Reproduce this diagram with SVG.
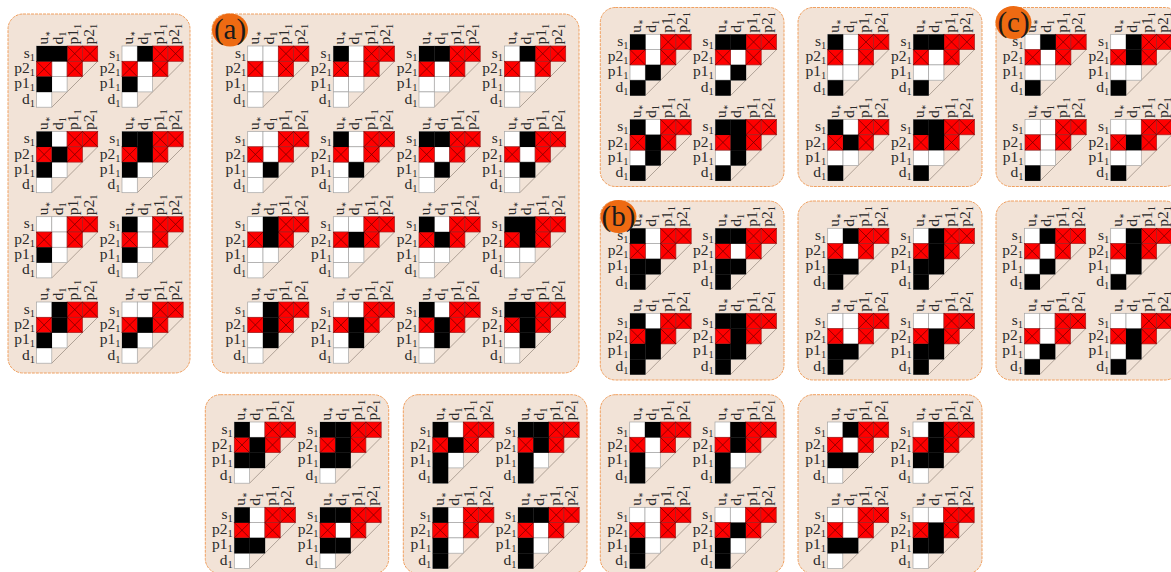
<svg xmlns="http://www.w3.org/2000/svg" width="1171" height="572" viewBox="0 0 1171 572">
<style>
.p{fill:#f2e3d7;stroke:#f0a060;stroke-width:1;stroke-dasharray:3 1}
text{font-family:"Liberation Serif","Times New Roman",serif;font-size:15.5px;fill:#2a2a2a}
tspan{font-size:10.5px;baseline-shift:-3px}
.c text:first-child tspan{font-size:7px;baseline-shift:-2px;font-family:"DejaVu Sans",sans-serif}
.r{text-anchor:end;transform:translate(-1.5px,0)}
.c{transform:translate(0,-1.5px) rotate(-90deg)}
.w{fill:#fff;stroke:#a5a5a5;stroke-width:.7}
.e{fill:#f00;stroke:#a02020;stroke-width:.7}
.x{stroke:#600;stroke-width:.7;fill:none}
.d{stroke:#a89a8e;stroke-width:.9}
.h{fill:#000}
.o{fill:#ee6a12}
.t{font-size:29px;fill:#1a1a1a;text-anchor:middle}
</style>
<defs>
<g id="b">
<path class="d" d="M15.3 61.2L61.2 15.3"/>
<rect class="w" width="15.3" height="15.3"/><rect class="w" x="15.3" width="15.3" height="15.3"/><rect class="w" x="15.3" y="15.3" width="15.3" height="15.3"/><rect class="w" y="30.6" width="15.3" height="15.3"/><rect class="w" x="15.3" y="30.6" width="15.3" height="15.3"/><rect class="w" y="45.9" width="15.3" height="15.3"/>
<rect class="e" x="30.6" width="15.3" height="15.3"/><rect class="e" x="45.9" width="15.3" height="15.3"/><rect class="e" y="15.3" width="15.3" height="15.3"/><rect class="e" x="30.6" y="15.3" width="15.3" height="15.3"/>
<path class="x" d="M30.6 0l15.3 15.3m0-15.3L30.6 15.3M45.9 0l15.3 15.3m0-15.3L45.9 15.3M0 15.3l15.3 15.3m0-15.3L0 30.6M30.6 15.3l15.3 15.3m0-15.3L30.6 30.6"/>
</g>
<rect id="A" class="h" width="15.5" height="15.5"/>
<rect id="B" class="h" x="15.3" width="15.5" height="15.5"/>
<rect id="C" class="h" x="15.3" y="15.3" width="15.5" height="15.5"/>
<rect id="D" class="h" y="30.6" width="15.5" height="15.5"/>
<rect id="E" class="h" x="15.3" y="30.6" width="15.5" height="15.5"/>
<rect id="F" class="h" y="45.9" width="15.5" height="15.5"/>
</defs>
<g id="panel-1"><rect class="p" x="8" y="14" width="182" height="359" rx="15"/>
<g id="m1" transform="translate(36.5 46)"><use href="#b"/><use href="#A"/><use href="#B"/><use href="#D"/><g class="r"><text y="11.5">s<tspan>1</tspan></text><text y="27">p2<tspan>1</tspan></text><text y="42">p1<tspan>1</tspan></text><text y="57.5">d<tspan>1</tspan></text></g><g class="c"><text y="11">u<tspan>∗</tspan></text><text y="26">d<tspan>1</tspan></text><text y="41.5">p1<tspan>1</tspan></text><text y="57">p2<tspan>1</tspan></text></g></g>
<g id="m2" transform="translate(122 46)"><use href="#b"/><use href="#B"/><use href="#D"/><g class="r"><text y="11.5">s<tspan>1</tspan></text><text y="27">p2<tspan>1</tspan></text><text y="42">p1<tspan>1</tspan></text><text y="57.5">d<tspan>1</tspan></text></g><g class="c"><text y="11">u<tspan>∗</tspan></text><text y="26">d<tspan>1</tspan></text><text y="41.5">p1<tspan>1</tspan></text><text y="57">p2<tspan>1</tspan></text></g></g>
<g id="m3" transform="translate(36.5 131.5)"><use href="#b"/><use href="#A"/><use href="#C"/><use href="#D"/><g class="r"><text y="11.5">s<tspan>1</tspan></text><text y="27">p2<tspan>1</tspan></text><text y="42">p1<tspan>1</tspan></text><text y="57.5">d<tspan>1</tspan></text></g><g class="c"><text y="11">u<tspan>∗</tspan></text><text y="26">d<tspan>1</tspan></text><text y="41.5">p1<tspan>1</tspan></text><text y="57">p2<tspan>1</tspan></text></g></g>
<g id="m4" transform="translate(122 131.5)"><use href="#b"/><use href="#A"/><use href="#B"/><use href="#C"/><use href="#D"/><g class="r"><text y="11.5">s<tspan>1</tspan></text><text y="27">p2<tspan>1</tspan></text><text y="42">p1<tspan>1</tspan></text><text y="57.5">d<tspan>1</tspan></text></g><g class="c"><text y="11">u<tspan>∗</tspan></text><text y="26">d<tspan>1</tspan></text><text y="41.5">p1<tspan>1</tspan></text><text y="57">p2<tspan>1</tspan></text></g></g>
<g id="m5" transform="translate(36.5 216.7)"><use href="#b"/><use href="#D"/><g class="r"><text y="11.5">s<tspan>1</tspan></text><text y="27">p2<tspan>1</tspan></text><text y="42">p1<tspan>1</tspan></text><text y="57.5">d<tspan>1</tspan></text></g><g class="c"><text y="11">u<tspan>∗</tspan></text><text y="26">d<tspan>1</tspan></text><text y="41.5">p1<tspan>1</tspan></text><text y="57">p2<tspan>1</tspan></text></g></g>
<g id="m6" transform="translate(122 216.7)"><use href="#b"/><use href="#A"/><use href="#D"/><g class="r"><text y="11.5">s<tspan>1</tspan></text><text y="27">p2<tspan>1</tspan></text><text y="42">p1<tspan>1</tspan></text><text y="57.5">d<tspan>1</tspan></text></g><g class="c"><text y="11">u<tspan>∗</tspan></text><text y="26">d<tspan>1</tspan></text><text y="41.5">p1<tspan>1</tspan></text><text y="57">p2<tspan>1</tspan></text></g></g>
<g id="m7" transform="translate(36.5 302)"><use href="#b"/><use href="#B"/><use href="#C"/><use href="#D"/><g class="r"><text y="11.5">s<tspan>1</tspan></text><text y="27">p2<tspan>1</tspan></text><text y="42">p1<tspan>1</tspan></text><text y="57.5">d<tspan>1</tspan></text></g><g class="c"><text y="11">u<tspan>∗</tspan></text><text y="26">d<tspan>1</tspan></text><text y="41.5">p1<tspan>1</tspan></text><text y="57">p2<tspan>1</tspan></text></g></g>
<g id="m8" transform="translate(122 302)"><use href="#b"/><use href="#C"/><use href="#D"/><g class="r"><text y="11.5">s<tspan>1</tspan></text><text y="27">p2<tspan>1</tspan></text><text y="42">p1<tspan>1</tspan></text><text y="57.5">d<tspan>1</tspan></text></g><g class="c"><text y="11">u<tspan>∗</tspan></text><text y="26">d<tspan>1</tspan></text><text y="41.5">p1<tspan>1</tspan></text><text y="57">p2<tspan>1</tspan></text></g></g>
</g>
<g id="panel-a"><rect class="p" x="212" y="14" width="367" height="359" rx="15"/>
<g id="m9" transform="translate(247.7 46)"><use href="#b"/><g class="r"><text y="11.5">s<tspan>1</tspan></text><text y="27">p2<tspan>1</tspan></text><text y="42">p1<tspan>1</tspan></text><text y="57.5">d<tspan>1</tspan></text></g><g class="c"><text y="11">u<tspan>∗</tspan></text><text y="26">d<tspan>1</tspan></text><text y="41.5">p1<tspan>1</tspan></text><text y="57">p2<tspan>1</tspan></text></g></g>
<g id="m10" transform="translate(333.3 46)"><use href="#b"/><use href="#A"/><g class="r"><text y="11.5">s<tspan>1</tspan></text><text y="27">p2<tspan>1</tspan></text><text y="42">p1<tspan>1</tspan></text><text y="57.5">d<tspan>1</tspan></text></g><g class="c"><text y="11">u<tspan>∗</tspan></text><text y="26">d<tspan>1</tspan></text><text y="41.5">p1<tspan>1</tspan></text><text y="57">p2<tspan>1</tspan></text></g></g>
<g id="m11" transform="translate(419 46)"><use href="#b"/><use href="#A"/><use href="#B"/><g class="r"><text y="11.5">s<tspan>1</tspan></text><text y="27">p2<tspan>1</tspan></text><text y="42">p1<tspan>1</tspan></text><text y="57.5">d<tspan>1</tspan></text></g><g class="c"><text y="11">u<tspan>∗</tspan></text><text y="26">d<tspan>1</tspan></text><text y="41.5">p1<tspan>1</tspan></text><text y="57">p2<tspan>1</tspan></text></g></g>
<g id="m12" transform="translate(504.5 46)"><use href="#b"/><use href="#B"/><g class="r"><text y="11.5">s<tspan>1</tspan></text><text y="27">p2<tspan>1</tspan></text><text y="42">p1<tspan>1</tspan></text><text y="57.5">d<tspan>1</tspan></text></g><g class="c"><text y="11">u<tspan>∗</tspan></text><text y="26">d<tspan>1</tspan></text><text y="41.5">p1<tspan>1</tspan></text><text y="57">p2<tspan>1</tspan></text></g></g>
<g id="m13" transform="translate(247.7 131.5)"><use href="#b"/><use href="#E"/><g class="r"><text y="11.5">s<tspan>1</tspan></text><text y="27">p2<tspan>1</tspan></text><text y="42">p1<tspan>1</tspan></text><text y="57.5">d<tspan>1</tspan></text></g><g class="c"><text y="11">u<tspan>∗</tspan></text><text y="26">d<tspan>1</tspan></text><text y="41.5">p1<tspan>1</tspan></text><text y="57">p2<tspan>1</tspan></text></g></g>
<g id="m14" transform="translate(333.3 131.5)"><use href="#b"/><use href="#A"/><use href="#E"/><g class="r"><text y="11.5">s<tspan>1</tspan></text><text y="27">p2<tspan>1</tspan></text><text y="42">p1<tspan>1</tspan></text><text y="57.5">d<tspan>1</tspan></text></g><g class="c"><text y="11">u<tspan>∗</tspan></text><text y="26">d<tspan>1</tspan></text><text y="41.5">p1<tspan>1</tspan></text><text y="57">p2<tspan>1</tspan></text></g></g>
<g id="m15" transform="translate(419 131.5)"><use href="#b"/><use href="#A"/><use href="#B"/><use href="#E"/><g class="r"><text y="11.5">s<tspan>1</tspan></text><text y="27">p2<tspan>1</tspan></text><text y="42">p1<tspan>1</tspan></text><text y="57.5">d<tspan>1</tspan></text></g><g class="c"><text y="11">u<tspan>∗</tspan></text><text y="26">d<tspan>1</tspan></text><text y="41.5">p1<tspan>1</tspan></text><text y="57">p2<tspan>1</tspan></text></g></g>
<g id="m16" transform="translate(504.5 131.5)"><use href="#b"/><use href="#B"/><use href="#E"/><g class="r"><text y="11.5">s<tspan>1</tspan></text><text y="27">p2<tspan>1</tspan></text><text y="42">p1<tspan>1</tspan></text><text y="57.5">d<tspan>1</tspan></text></g><g class="c"><text y="11">u<tspan>∗</tspan></text><text y="26">d<tspan>1</tspan></text><text y="41.5">p1<tspan>1</tspan></text><text y="57">p2<tspan>1</tspan></text></g></g>
<g id="m17" transform="translate(247.7 216.7)"><use href="#b"/><use href="#B"/><use href="#C"/><g class="r"><text y="11.5">s<tspan>1</tspan></text><text y="27">p2<tspan>1</tspan></text><text y="42">p1<tspan>1</tspan></text><text y="57.5">d<tspan>1</tspan></text></g><g class="c"><text y="11">u<tspan>∗</tspan></text><text y="26">d<tspan>1</tspan></text><text y="41.5">p1<tspan>1</tspan></text><text y="57">p2<tspan>1</tspan></text></g></g>
<g id="m18" transform="translate(333.3 216.7)"><use href="#b"/><use href="#C"/><g class="r"><text y="11.5">s<tspan>1</tspan></text><text y="27">p2<tspan>1</tspan></text><text y="42">p1<tspan>1</tspan></text><text y="57.5">d<tspan>1</tspan></text></g><g class="c"><text y="11">u<tspan>∗</tspan></text><text y="26">d<tspan>1</tspan></text><text y="41.5">p1<tspan>1</tspan></text><text y="57">p2<tspan>1</tspan></text></g></g>
<g id="m19" transform="translate(419 216.7)"><use href="#b"/><use href="#A"/><use href="#C"/><g class="r"><text y="11.5">s<tspan>1</tspan></text><text y="27">p2<tspan>1</tspan></text><text y="42">p1<tspan>1</tspan></text><text y="57.5">d<tspan>1</tspan></text></g><g class="c"><text y="11">u<tspan>∗</tspan></text><text y="26">d<tspan>1</tspan></text><text y="41.5">p1<tspan>1</tspan></text><text y="57">p2<tspan>1</tspan></text></g></g>
<g id="m20" transform="translate(504.5 216.7)"><use href="#b"/><use href="#A"/><use href="#B"/><use href="#C"/><g class="r"><text y="11.5">s<tspan>1</tspan></text><text y="27">p2<tspan>1</tspan></text><text y="42">p1<tspan>1</tspan></text><text y="57.5">d<tspan>1</tspan></text></g><g class="c"><text y="11">u<tspan>∗</tspan></text><text y="26">d<tspan>1</tspan></text><text y="41.5">p1<tspan>1</tspan></text><text y="57">p2<tspan>1</tspan></text></g></g>
<g id="m21" transform="translate(247.7 302)"><use href="#b"/><use href="#B"/><use href="#C"/><use href="#E"/><g class="r"><text y="11.5">s<tspan>1</tspan></text><text y="27">p2<tspan>1</tspan></text><text y="42">p1<tspan>1</tspan></text><text y="57.5">d<tspan>1</tspan></text></g><g class="c"><text y="11">u<tspan>∗</tspan></text><text y="26">d<tspan>1</tspan></text><text y="41.5">p1<tspan>1</tspan></text><text y="57">p2<tspan>1</tspan></text></g></g>
<g id="m22" transform="translate(333.3 302)"><use href="#b"/><use href="#C"/><use href="#E"/><g class="r"><text y="11.5">s<tspan>1</tspan></text><text y="27">p2<tspan>1</tspan></text><text y="42">p1<tspan>1</tspan></text><text y="57.5">d<tspan>1</tspan></text></g><g class="c"><text y="11">u<tspan>∗</tspan></text><text y="26">d<tspan>1</tspan></text><text y="41.5">p1<tspan>1</tspan></text><text y="57">p2<tspan>1</tspan></text></g></g>
<g id="m23" transform="translate(419 302)"><use href="#b"/><use href="#A"/><use href="#C"/><use href="#E"/><g class="r"><text y="11.5">s<tspan>1</tspan></text><text y="27">p2<tspan>1</tspan></text><text y="42">p1<tspan>1</tspan></text><text y="57.5">d<tspan>1</tspan></text></g><g class="c"><text y="11">u<tspan>∗</tspan></text><text y="26">d<tspan>1</tspan></text><text y="41.5">p1<tspan>1</tspan></text><text y="57">p2<tspan>1</tspan></text></g></g>
<g id="m24" transform="translate(504.5 302)"><use href="#b"/><use href="#A"/><use href="#B"/><use href="#C"/><use href="#E"/><g class="r"><text y="11.5">s<tspan>1</tspan></text><text y="27">p2<tspan>1</tspan></text><text y="42">p1<tspan>1</tspan></text><text y="57.5">d<tspan>1</tspan></text></g><g class="c"><text y="11">u<tspan>∗</tspan></text><text y="26">d<tspan>1</tspan></text><text y="41.5">p1<tspan>1</tspan></text><text y="57">p2<tspan>1</tspan></text></g></g>
</g>
<g id="panel-t1"><rect class="p" x="600.3" y="7.5" width="183.7" height="179" rx="15"/>
<g id="m25" transform="translate(630 34.3)"><use href="#b"/><use href="#A"/><use href="#E"/><use href="#F"/><g class="r"><text y="11.5">s<tspan>1</tspan></text><text y="27">p2<tspan>1</tspan></text><text y="42">p1<tspan>1</tspan></text><text y="57.5">d<tspan>1</tspan></text></g><g class="c"><text y="11">u<tspan>∗</tspan></text><text y="26">d<tspan>1</tspan></text><text y="41.5">p1<tspan>1</tspan></text><text y="57">p2<tspan>1</tspan></text></g></g>
<g id="m26" transform="translate(715.3 34.3)"><use href="#b"/><use href="#A"/><use href="#B"/><use href="#E"/><use href="#F"/><g class="r"><text y="11.5">s<tspan>1</tspan></text><text y="27">p2<tspan>1</tspan></text><text y="42">p1<tspan>1</tspan></text><text y="57.5">d<tspan>1</tspan></text></g><g class="c"><text y="11">u<tspan>∗</tspan></text><text y="26">d<tspan>1</tspan></text><text y="41.5">p1<tspan>1</tspan></text><text y="57">p2<tspan>1</tspan></text></g></g>
<g id="m27" transform="translate(630 119.5)"><use href="#b"/><use href="#A"/><use href="#C"/><use href="#E"/><use href="#F"/><g class="r"><text y="11.5">s<tspan>1</tspan></text><text y="27">p2<tspan>1</tspan></text><text y="42">p1<tspan>1</tspan></text><text y="57.5">d<tspan>1</tspan></text></g><g class="c"><text y="11">u<tspan>∗</tspan></text><text y="26">d<tspan>1</tspan></text><text y="41.5">p1<tspan>1</tspan></text><text y="57">p2<tspan>1</tspan></text></g></g>
<g id="m28" transform="translate(715.3 119.5)"><use href="#b"/><use href="#A"/><use href="#B"/><use href="#C"/><use href="#E"/><use href="#F"/><g class="r"><text y="11.5">s<tspan>1</tspan></text><text y="27">p2<tspan>1</tspan></text><text y="42">p1<tspan>1</tspan></text><text y="57.5">d<tspan>1</tspan></text></g><g class="c"><text y="11">u<tspan>∗</tspan></text><text y="26">d<tspan>1</tspan></text><text y="41.5">p1<tspan>1</tspan></text><text y="57">p2<tspan>1</tspan></text></g></g>
</g>
<g id="panel-t2"><rect class="p" x="798" y="7.5" width="184" height="179" rx="15"/>
<g id="m29" transform="translate(827.7 34.3)"><use href="#b"/><use href="#A"/><use href="#F"/><g class="r"><text y="11.5">s<tspan>1</tspan></text><text y="27">p2<tspan>1</tspan></text><text y="42">p1<tspan>1</tspan></text><text y="57.5">d<tspan>1</tspan></text></g><g class="c"><text y="11">u<tspan>∗</tspan></text><text y="26">d<tspan>1</tspan></text><text y="41.5">p1<tspan>1</tspan></text><text y="57">p2<tspan>1</tspan></text></g></g>
<g id="m30" transform="translate(913.3 34.3)"><use href="#b"/><use href="#A"/><use href="#B"/><use href="#F"/><g class="r"><text y="11.5">s<tspan>1</tspan></text><text y="27">p2<tspan>1</tspan></text><text y="42">p1<tspan>1</tspan></text><text y="57.5">d<tspan>1</tspan></text></g><g class="c"><text y="11">u<tspan>∗</tspan></text><text y="26">d<tspan>1</tspan></text><text y="41.5">p1<tspan>1</tspan></text><text y="57">p2<tspan>1</tspan></text></g></g>
<g id="m31" transform="translate(827.7 119.5)"><use href="#b"/><use href="#A"/><use href="#C"/><use href="#F"/><g class="r"><text y="11.5">s<tspan>1</tspan></text><text y="27">p2<tspan>1</tspan></text><text y="42">p1<tspan>1</tspan></text><text y="57.5">d<tspan>1</tspan></text></g><g class="c"><text y="11">u<tspan>∗</tspan></text><text y="26">d<tspan>1</tspan></text><text y="41.5">p1<tspan>1</tspan></text><text y="57">p2<tspan>1</tspan></text></g></g>
<g id="m32" transform="translate(913.3 119.5)"><use href="#b"/><use href="#A"/><use href="#B"/><use href="#C"/><use href="#F"/><g class="r"><text y="11.5">s<tspan>1</tspan></text><text y="27">p2<tspan>1</tspan></text><text y="42">p1<tspan>1</tspan></text><text y="57.5">d<tspan>1</tspan></text></g><g class="c"><text y="11">u<tspan>∗</tspan></text><text y="26">d<tspan>1</tspan></text><text y="41.5">p1<tspan>1</tspan></text><text y="57">p2<tspan>1</tspan></text></g></g>
</g>
<g id="panel-c"><rect class="p" x="996" y="7.5" width="184" height="179" rx="15"/>
<g id="m33" transform="translate(1025 34.3)"><use href="#b"/><use href="#B"/><use href="#F"/><g class="r"><text y="11.5">s<tspan>1</tspan></text><text y="27">p2<tspan>1</tspan></text><text y="42">p1<tspan>1</tspan></text><text y="57.5">d<tspan>1</tspan></text></g><g class="c"><text y="11">u<tspan>∗</tspan></text><text y="26">d<tspan>1</tspan></text><text y="41.5">p1<tspan>1</tspan></text><text y="57">p2<tspan>1</tspan></text></g></g>
<g id="m34" transform="translate(1110.7 34.3)"><use href="#b"/><use href="#B"/><use href="#C"/><use href="#F"/><g class="r"><text y="11.5">s<tspan>1</tspan></text><text y="27">p2<tspan>1</tspan></text><text y="42">p1<tspan>1</tspan></text><text y="57.5">d<tspan>1</tspan></text></g><g class="c"><text y="11">u<tspan>∗</tspan></text><text y="26">d<tspan>1</tspan></text><text y="41.5">p1<tspan>1</tspan></text><text y="57">p2<tspan>1</tspan></text></g></g>
<g id="m35" transform="translate(1025 119.5)"><use href="#b"/><use href="#F"/><g class="r"><text y="11.5">s<tspan>1</tspan></text><text y="27">p2<tspan>1</tspan></text><text y="42">p1<tspan>1</tspan></text><text y="57.5">d<tspan>1</tspan></text></g><g class="c"><text y="11">u<tspan>∗</tspan></text><text y="26">d<tspan>1</tspan></text><text y="41.5">p1<tspan>1</tspan></text><text y="57">p2<tspan>1</tspan></text></g></g>
<g id="m36" transform="translate(1110.7 119.5)"><use href="#b"/><use href="#C"/><use href="#F"/><g class="r"><text y="11.5">s<tspan>1</tspan></text><text y="27">p2<tspan>1</tspan></text><text y="42">p1<tspan>1</tspan></text><text y="57.5">d<tspan>1</tspan></text></g><g class="c"><text y="11">u<tspan>∗</tspan></text><text y="26">d<tspan>1</tspan></text><text y="41.5">p1<tspan>1</tspan></text><text y="57">p2<tspan>1</tspan></text></g></g>
</g>
<g id="panel-b"><rect class="p" x="600.3" y="201" width="183.7" height="179" rx="15"/>
<g id="m37" transform="translate(630 228.3)"><use href="#b"/><use href="#A"/><use href="#D"/><use href="#E"/><use href="#F"/><g class="r"><text y="11.5">s<tspan>1</tspan></text><text y="27">p2<tspan>1</tspan></text><text y="42">p1<tspan>1</tspan></text><text y="57.5">d<tspan>1</tspan></text></g><g class="c"><text y="11">u<tspan>∗</tspan></text><text y="26">d<tspan>1</tspan></text><text y="41.5">p1<tspan>1</tspan></text><text y="57">p2<tspan>1</tspan></text></g></g>
<g id="m38" transform="translate(715.3 228.3)"><use href="#b"/><use href="#A"/><use href="#B"/><use href="#D"/><use href="#E"/><use href="#F"/><g class="r"><text y="11.5">s<tspan>1</tspan></text><text y="27">p2<tspan>1</tspan></text><text y="42">p1<tspan>1</tspan></text><text y="57.5">d<tspan>1</tspan></text></g><g class="c"><text y="11">u<tspan>∗</tspan></text><text y="26">d<tspan>1</tspan></text><text y="41.5">p1<tspan>1</tspan></text><text y="57">p2<tspan>1</tspan></text></g></g>
<g id="m39" transform="translate(630 313.3)"><use href="#b"/><use href="#A"/><use href="#C"/><use href="#D"/><use href="#E"/><use href="#F"/><g class="r"><text y="11.5">s<tspan>1</tspan></text><text y="27">p2<tspan>1</tspan></text><text y="42">p1<tspan>1</tspan></text><text y="57.5">d<tspan>1</tspan></text></g><g class="c"><text y="11">u<tspan>∗</tspan></text><text y="26">d<tspan>1</tspan></text><text y="41.5">p1<tspan>1</tspan></text><text y="57">p2<tspan>1</tspan></text></g></g>
<g id="m40" transform="translate(715.3 313.3)"><use href="#b"/><use href="#A"/><use href="#B"/><use href="#C"/><use href="#D"/><use href="#E"/><use href="#F"/><g class="r"><text y="11.5">s<tspan>1</tspan></text><text y="27">p2<tspan>1</tspan></text><text y="42">p1<tspan>1</tspan></text><text y="57.5">d<tspan>1</tspan></text></g><g class="c"><text y="11">u<tspan>∗</tspan></text><text y="26">d<tspan>1</tspan></text><text y="41.5">p1<tspan>1</tspan></text><text y="57">p2<tspan>1</tspan></text></g></g>
</g>
<g id="panel-m2"><rect class="p" x="798" y="201" width="184" height="179" rx="15"/>
<g id="m41" transform="translate(827.7 228.3)"><use href="#b"/><use href="#B"/><use href="#D"/><use href="#E"/><use href="#F"/><g class="r"><text y="11.5">s<tspan>1</tspan></text><text y="27">p2<tspan>1</tspan></text><text y="42">p1<tspan>1</tspan></text><text y="57.5">d<tspan>1</tspan></text></g><g class="c"><text y="11">u<tspan>∗</tspan></text><text y="26">d<tspan>1</tspan></text><text y="41.5">p1<tspan>1</tspan></text><text y="57">p2<tspan>1</tspan></text></g></g>
<g id="m42" transform="translate(913.3 228.3)"><use href="#b"/><use href="#B"/><use href="#C"/><use href="#D"/><use href="#E"/><use href="#F"/><g class="r"><text y="11.5">s<tspan>1</tspan></text><text y="27">p2<tspan>1</tspan></text><text y="42">p1<tspan>1</tspan></text><text y="57.5">d<tspan>1</tspan></text></g><g class="c"><text y="11">u<tspan>∗</tspan></text><text y="26">d<tspan>1</tspan></text><text y="41.5">p1<tspan>1</tspan></text><text y="57">p2<tspan>1</tspan></text></g></g>
<g id="m43" transform="translate(827.7 313.3)"><use href="#b"/><use href="#D"/><use href="#E"/><use href="#F"/><g class="r"><text y="11.5">s<tspan>1</tspan></text><text y="27">p2<tspan>1</tspan></text><text y="42">p1<tspan>1</tspan></text><text y="57.5">d<tspan>1</tspan></text></g><g class="c"><text y="11">u<tspan>∗</tspan></text><text y="26">d<tspan>1</tspan></text><text y="41.5">p1<tspan>1</tspan></text><text y="57">p2<tspan>1</tspan></text></g></g>
<g id="m44" transform="translate(913.3 313.3)"><use href="#b"/><use href="#C"/><use href="#D"/><use href="#E"/><use href="#F"/><g class="r"><text y="11.5">s<tspan>1</tspan></text><text y="27">p2<tspan>1</tspan></text><text y="42">p1<tspan>1</tspan></text><text y="57.5">d<tspan>1</tspan></text></g><g class="c"><text y="11">u<tspan>∗</tspan></text><text y="26">d<tspan>1</tspan></text><text y="41.5">p1<tspan>1</tspan></text><text y="57">p2<tspan>1</tspan></text></g></g>
</g>
<g id="panel-m3"><rect class="p" x="996" y="201" width="184" height="179" rx="15"/>
<g id="m45" transform="translate(1024.5 228.3)"><use href="#b"/><use href="#B"/><use href="#E"/><use href="#F"/><g class="r"><text y="11.5">s<tspan>1</tspan></text><text y="27">p2<tspan>1</tspan></text><text y="42">p1<tspan>1</tspan></text><text y="57.5">d<tspan>1</tspan></text></g><g class="c"><text y="11">u<tspan>∗</tspan></text><text y="26">d<tspan>1</tspan></text><text y="41.5">p1<tspan>1</tspan></text><text y="57">p2<tspan>1</tspan></text></g></g>
<g id="m46" transform="translate(1110.7 228.3)"><use href="#b"/><use href="#B"/><use href="#C"/><use href="#E"/><use href="#F"/><g class="r"><text y="11.5">s<tspan>1</tspan></text><text y="27">p2<tspan>1</tspan></text><text y="42">p1<tspan>1</tspan></text><text y="57.5">d<tspan>1</tspan></text></g><g class="c"><text y="11">u<tspan>∗</tspan></text><text y="26">d<tspan>1</tspan></text><text y="41.5">p1<tspan>1</tspan></text><text y="57">p2<tspan>1</tspan></text></g></g>
<g id="m47" transform="translate(1024.5 313.3)"><use href="#b"/><use href="#E"/><use href="#F"/><g class="r"><text y="11.5">s<tspan>1</tspan></text><text y="27">p2<tspan>1</tspan></text><text y="42">p1<tspan>1</tspan></text><text y="57.5">d<tspan>1</tspan></text></g><g class="c"><text y="11">u<tspan>∗</tspan></text><text y="26">d<tspan>1</tspan></text><text y="41.5">p1<tspan>1</tspan></text><text y="57">p2<tspan>1</tspan></text></g></g>
<g id="m48" transform="translate(1110.7 313.3)"><use href="#b"/><use href="#C"/><use href="#E"/><use href="#F"/><g class="r"><text y="11.5">s<tspan>1</tspan></text><text y="27">p2<tspan>1</tspan></text><text y="42">p1<tspan>1</tspan></text><text y="57.5">d<tspan>1</tspan></text></g><g class="c"><text y="11">u<tspan>∗</tspan></text><text y="26">d<tspan>1</tspan></text><text y="41.5">p1<tspan>1</tspan></text><text y="57">p2<tspan>1</tspan></text></g></g>
</g>
<g id="panel-l1"><rect class="p" x="205.3" y="394.7" width="183.4" height="179" rx="15"/>
<g id="m49" transform="translate(234.3 422)"><use href="#b"/><use href="#A"/><use href="#C"/><use href="#D"/><use href="#E"/><g class="r"><text y="11.5">s<tspan>1</tspan></text><text y="27">p2<tspan>1</tspan></text><text y="42">p1<tspan>1</tspan></text><text y="57.5">d<tspan>1</tspan></text></g><g class="c"><text y="11">u<tspan>∗</tspan></text><text y="26">d<tspan>1</tspan></text><text y="41.5">p1<tspan>1</tspan></text><text y="57">p2<tspan>1</tspan></text></g></g>
<g id="m50" transform="translate(320 422)"><use href="#b"/><use href="#A"/><use href="#B"/><use href="#C"/><use href="#D"/><use href="#E"/><g class="r"><text y="11.5">s<tspan>1</tspan></text><text y="27">p2<tspan>1</tspan></text><text y="42">p1<tspan>1</tspan></text><text y="57.5">d<tspan>1</tspan></text></g><g class="c"><text y="11">u<tspan>∗</tspan></text><text y="26">d<tspan>1</tspan></text><text y="41.5">p1<tspan>1</tspan></text><text y="57">p2<tspan>1</tspan></text></g></g>
<g id="m51" transform="translate(234.3 507.3)"><use href="#b"/><use href="#A"/><use href="#D"/><use href="#E"/><g class="r"><text y="11.5">s<tspan>1</tspan></text><text y="27">p2<tspan>1</tspan></text><text y="42">p1<tspan>1</tspan></text><text y="57.5">d<tspan>1</tspan></text></g><g class="c"><text y="11">u<tspan>∗</tspan></text><text y="26">d<tspan>1</tspan></text><text y="41.5">p1<tspan>1</tspan></text><text y="57">p2<tspan>1</tspan></text></g></g>
<g id="m52" transform="translate(320 507.3)"><use href="#b"/><use href="#A"/><use href="#B"/><use href="#D"/><use href="#E"/><g class="r"><text y="11.5">s<tspan>1</tspan></text><text y="27">p2<tspan>1</tspan></text><text y="42">p1<tspan>1</tspan></text><text y="57.5">d<tspan>1</tspan></text></g><g class="c"><text y="11">u<tspan>∗</tspan></text><text y="26">d<tspan>1</tspan></text><text y="41.5">p1<tspan>1</tspan></text><text y="57">p2<tspan>1</tspan></text></g></g>
</g>
<g id="panel-l2"><rect class="p" x="403.3" y="394.7" width="183.7" height="179" rx="15"/>
<g id="m53" transform="translate(432.7 422)"><use href="#b"/><use href="#A"/><use href="#C"/><use href="#D"/><use href="#F"/><g class="r"><text y="11.5">s<tspan>1</tspan></text><text y="27">p2<tspan>1</tspan></text><text y="42">p1<tspan>1</tspan></text><text y="57.5">d<tspan>1</tspan></text></g><g class="c"><text y="11">u<tspan>∗</tspan></text><text y="26">d<tspan>1</tspan></text><text y="41.5">p1<tspan>1</tspan></text><text y="57">p2<tspan>1</tspan></text></g></g>
<g id="m54" transform="translate(518 422)"><use href="#b"/><use href="#A"/><use href="#B"/><use href="#C"/><use href="#D"/><use href="#F"/><g class="r"><text y="11.5">s<tspan>1</tspan></text><text y="27">p2<tspan>1</tspan></text><text y="42">p1<tspan>1</tspan></text><text y="57.5">d<tspan>1</tspan></text></g><g class="c"><text y="11">u<tspan>∗</tspan></text><text y="26">d<tspan>1</tspan></text><text y="41.5">p1<tspan>1</tspan></text><text y="57">p2<tspan>1</tspan></text></g></g>
<g id="m55" transform="translate(432.7 507.3)"><use href="#b"/><use href="#A"/><use href="#D"/><use href="#F"/><g class="r"><text y="11.5">s<tspan>1</tspan></text><text y="27">p2<tspan>1</tspan></text><text y="42">p1<tspan>1</tspan></text><text y="57.5">d<tspan>1</tspan></text></g><g class="c"><text y="11">u<tspan>∗</tspan></text><text y="26">d<tspan>1</tspan></text><text y="41.5">p1<tspan>1</tspan></text><text y="57">p2<tspan>1</tspan></text></g></g>
<g id="m56" transform="translate(518 507.3)"><use href="#b"/><use href="#A"/><use href="#B"/><use href="#D"/><use href="#F"/><g class="r"><text y="11.5">s<tspan>1</tspan></text><text y="27">p2<tspan>1</tspan></text><text y="42">p1<tspan>1</tspan></text><text y="57.5">d<tspan>1</tspan></text></g><g class="c"><text y="11">u<tspan>∗</tspan></text><text y="26">d<tspan>1</tspan></text><text y="41.5">p1<tspan>1</tspan></text><text y="57">p2<tspan>1</tspan></text></g></g>
</g>
<g id="panel-l3"><rect class="p" x="600.3" y="394.7" width="183.7" height="179" rx="15"/>
<g id="m57" transform="translate(629.7 422)"><use href="#b"/><use href="#B"/><use href="#D"/><use href="#F"/><g class="r"><text y="11.5">s<tspan>1</tspan></text><text y="27">p2<tspan>1</tspan></text><text y="42">p1<tspan>1</tspan></text><text y="57.5">d<tspan>1</tspan></text></g><g class="c"><text y="11">u<tspan>∗</tspan></text><text y="26">d<tspan>1</tspan></text><text y="41.5">p1<tspan>1</tspan></text><text y="57">p2<tspan>1</tspan></text></g></g>
<g id="m58" transform="translate(715 422)"><use href="#b"/><use href="#B"/><use href="#C"/><use href="#D"/><use href="#F"/><g class="r"><text y="11.5">s<tspan>1</tspan></text><text y="27">p2<tspan>1</tspan></text><text y="42">p1<tspan>1</tspan></text><text y="57.5">d<tspan>1</tspan></text></g><g class="c"><text y="11">u<tspan>∗</tspan></text><text y="26">d<tspan>1</tspan></text><text y="41.5">p1<tspan>1</tspan></text><text y="57">p2<tspan>1</tspan></text></g></g>
<g id="m59" transform="translate(629.7 507.3)"><use href="#b"/><use href="#D"/><use href="#F"/><g class="r"><text y="11.5">s<tspan>1</tspan></text><text y="27">p2<tspan>1</tspan></text><text y="42">p1<tspan>1</tspan></text><text y="57.5">d<tspan>1</tspan></text></g><g class="c"><text y="11">u<tspan>∗</tspan></text><text y="26">d<tspan>1</tspan></text><text y="41.5">p1<tspan>1</tspan></text><text y="57">p2<tspan>1</tspan></text></g></g>
<g id="m60" transform="translate(715 507.3)"><use href="#b"/><use href="#C"/><use href="#D"/><use href="#F"/><g class="r"><text y="11.5">s<tspan>1</tspan></text><text y="27">p2<tspan>1</tspan></text><text y="42">p1<tspan>1</tspan></text><text y="57.5">d<tspan>1</tspan></text></g><g class="c"><text y="11">u<tspan>∗</tspan></text><text y="26">d<tspan>1</tspan></text><text y="41.5">p1<tspan>1</tspan></text><text y="57">p2<tspan>1</tspan></text></g></g>
</g>
<g id="panel-l4"><rect class="p" x="798" y="394.7" width="184" height="179" rx="15"/>
<g id="m61" transform="translate(827.5 422)"><use href="#b"/><use href="#B"/><use href="#D"/><use href="#E"/><g class="r"><text y="11.5">s<tspan>1</tspan></text><text y="27">p2<tspan>1</tspan></text><text y="42">p1<tspan>1</tspan></text><text y="57.5">d<tspan>1</tspan></text></g><g class="c"><text y="11">u<tspan>∗</tspan></text><text y="26">d<tspan>1</tspan></text><text y="41.5">p1<tspan>1</tspan></text><text y="57">p2<tspan>1</tspan></text></g></g>
<g id="m62" transform="translate(913 422)"><use href="#b"/><use href="#B"/><use href="#C"/><use href="#D"/><use href="#E"/><g class="r"><text y="11.5">s<tspan>1</tspan></text><text y="27">p2<tspan>1</tspan></text><text y="42">p1<tspan>1</tspan></text><text y="57.5">d<tspan>1</tspan></text></g><g class="c"><text y="11">u<tspan>∗</tspan></text><text y="26">d<tspan>1</tspan></text><text y="41.5">p1<tspan>1</tspan></text><text y="57">p2<tspan>1</tspan></text></g></g>
<g id="m63" transform="translate(827.5 507.3)"><use href="#b"/><use href="#D"/><use href="#E"/><g class="r"><text y="11.5">s<tspan>1</tspan></text><text y="27">p2<tspan>1</tspan></text><text y="42">p1<tspan>1</tspan></text><text y="57.5">d<tspan>1</tspan></text></g><g class="c"><text y="11">u<tspan>∗</tspan></text><text y="26">d<tspan>1</tspan></text><text y="41.5">p1<tspan>1</tspan></text><text y="57">p2<tspan>1</tspan></text></g></g>
<g id="m64" transform="translate(913 507.3)"><use href="#b"/><use href="#C"/><use href="#D"/><use href="#E"/><g class="r"><text y="11.5">s<tspan>1</tspan></text><text y="27">p2<tspan>1</tspan></text><text y="42">p1<tspan>1</tspan></text><text y="57.5">d<tspan>1</tspan></text></g><g class="c"><text y="11">u<tspan>∗</tspan></text><text y="26">d<tspan>1</tspan></text><text y="41.5">p1<tspan>1</tspan></text><text y="57">p2<tspan>1</tspan></text></g></g>
</g>
<g id="badge-a"><ellipse class="o" cx="230" cy="30" rx="18" ry="16.5"/><text class="t" x="230" y="39">(a)</text></g>
<g id="badge-b"><ellipse class="o" cx="618.5" cy="216.5" rx="18" ry="16.5"/><text class="t" x="618.5" y="225.5">(b)</text></g>
<g id="badge-c"><ellipse class="o" cx="1013.5" cy="22.5" rx="18" ry="16.5"/><text class="t" x="1013.5" y="31.5">(c)</text></g>
</svg>
